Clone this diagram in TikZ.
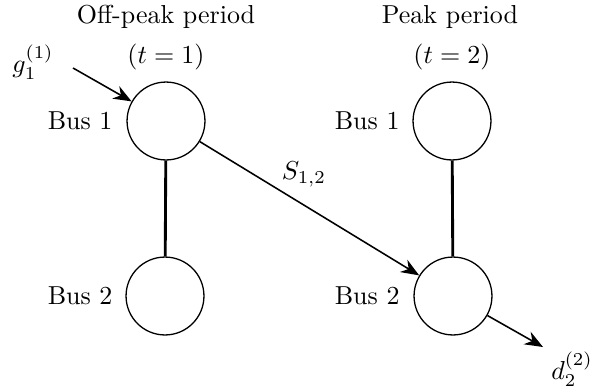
\documentclass[tikz,border=0pt]{standalone}
\usetikzlibrary{arrows.meta}
\begin{document}
\begin{tikzpicture}[x=0.385pt,y=-0.385pt,
  bus/.style={circle,draw,line width=0.5pt,minimum size=30pt,inner sep=0pt},
  lbl/.style={inner sep=0pt},
  tie/.style={line width=1.1pt},
  flow/.style={line width=0.6pt,-{Stealth[length=7pt,width=5.5pt]}}]
\useasboundingbox (0,0) rectangle (608,391);
\node[bus] (a1) at (166,121) {};
\node[bus] (a2) at (165,296) {};
\node[bus] (b1) at (452,121) {};
\node[bus] (b2) at (453,296) {};
\node[lbl,anchor=east] (la1) at (113,121) {Bus 1};
\node[lbl,anchor=east] (la2) at (113,296) {Bus 2};
\node[lbl,anchor=east] (lb1) at (400,121) {Bus 1};
\node[lbl,anchor=east] (lb2) at (400,296) {Bus 2};
\node[lbl] (t1) at (166,17) {Off-peak period};
\node[lbl] (t1b) at (166,57) {$(t=1)$};
\node[lbl] (t2) at (450,17) {Peak period};
\node[lbl] (t2b) at (452,57) {$(t=2)$};
\node[lbl] (g) at (33,62) {$g_1^{(1)}$};
\node[lbl] (d) at (572,369) {$d_2^{(2)}$};
\node[lbl] (s) at (304,174) {$S_{1,2}$};
\coordinate (gs) at (73,68);
\coordinate (de) at (543,347);
\draw[tie] (a1) -- (a2);
\draw[tie] (b1) -- (b2);
\draw[flow] (gs) -- (a1);
\draw[flow] (a1) -- (b2);
\draw[flow] (b2) -- (de);
\end{tikzpicture}
\end{document}
